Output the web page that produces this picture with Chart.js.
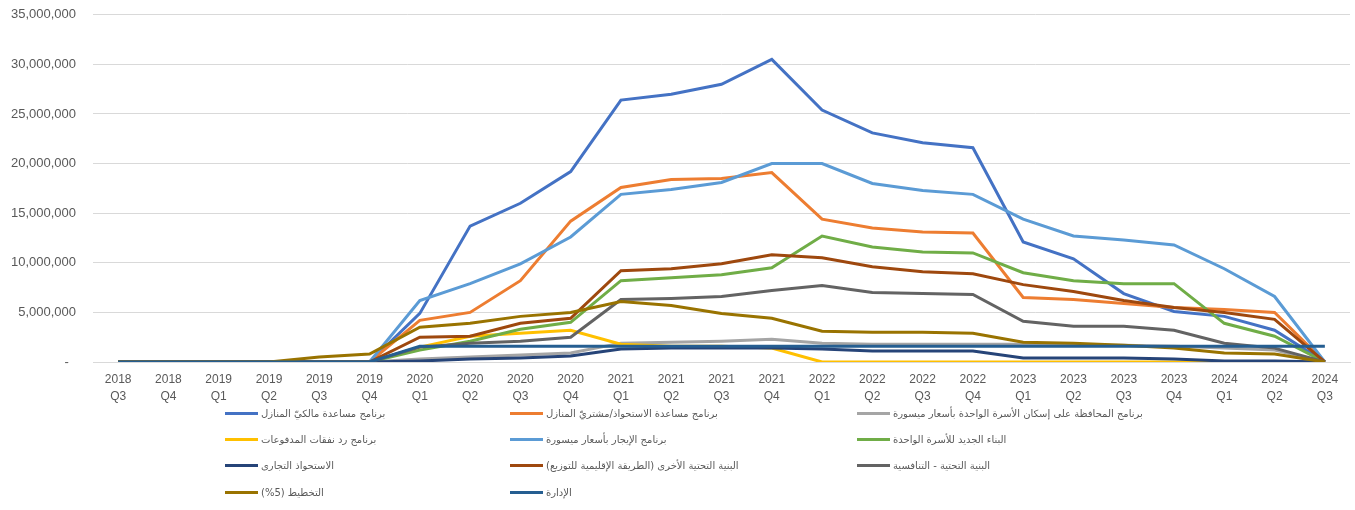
<!DOCTYPE html>
<html lang="ar">
<head>
<meta charset="utf-8">
<title>الإنفاق حسب البرنامج</title>
<script src="https://cdn.jsdelivr.net/npm/chart.js@4.4.1/dist/chart.umd.min.js"></script>
<style>
    html, body { margin: 0; padding: 0; background: #fff; }
    #wrap { position: relative; width: 1355px; height: 510px; overflow: hidden; }
    #chart-box { position: absolute; left: 0; top: -10px; width: 1355px; height: 415px; }
    #legend { position: absolute; left: 0; top: 400px; width: 1355px; height: 110px; }
    .legend-item { position: absolute; display: flex; align-items: center; height: 16px;
        font-family: "DejaVu Sans", "Liberation Sans", sans-serif; font-size: 10px; color: #595959; white-space: nowrap; }
    .legend-item .swatch { width: 33px; height: 3px; margin-right: 3px; flex: none; }
</style>
</head>
<body>
<div id="wrap">
    <div id="chart-box"><canvas id="spendChart"></canvas></div>
    <div id="legend"></div>
</div>
<script>
// quarters on the x axis
const categories = [
    '2018 Q3', '2018 Q4',
    '2019 Q1', '2019 Q2', '2019 Q3', '2019 Q4',
    '2020 Q1', '2020 Q2', '2020 Q3', '2020 Q4',
    '2021 Q1', '2021 Q2', '2021 Q3', '2021 Q4',
    '2022 Q1', '2022 Q2', '2022 Q3', '2022 Q4',
    '2023 Q1', '2023 Q2', '2023 Q3', '2023 Q4',
    '2024 Q1', '2024 Q2', '2024 Q3'
];

const yTicks = [0, 5000000, 10000000, 15000000, 20000000, 25000000, 30000000, 35000000];

// program names (legend order)
const seriesNames = [
    'برنامج مساعدة مالكيّ المنازل',
    'برنامج مساعدة الاستحواذ/مشتريّ المنازل',
    'برنامج المحافظة على إسكان الأسرة الواحدة بأسعار ميسورة',
    'برنامج رد نفقات المدفوعات',
    'برنامج الإيجار بأسعار ميسورة',
    'البناء الجديد للأسرة الواحدة',
    'الاستحواذ التجارى',
    'البنية التحتية الأخرى (الطريقة الإقليمية للتوزيع)',
    'البنية التحتية - التنافسية',
    'التخطيط \u202D(%5)\u202C',
    'الإدارة'
];

// cumulative spend per quarter
const homeowners   = [0, 0, 0, 0, 0, 0, 4900000, 13700000, 16000000, 19200000, 26400000, 27000000, 28000000, 30500000, 25400000, 23100000, 22100000, 21600000, 12100000, 10400000, 6900000, 5100000, 4600000, 3200000, 0];
const buyers       = [0, 0, 0, 0, 0, 0, 4200000, 5000000, 8200000, 14200000, 17600000, 18400000, 18500000, 19100000, 14400000, 13500000, 13100000, 13000000, 6500000, 6300000, 5900000, 5500000, 5300000, 5000000, 0];
const preservation = [0, 0, 0, 0, 0, 0, 300000, 500000, 700000, 900000, 1900000, 2000000, 2100000, 2300000, 1900000, 1800000, 1800000, 1800000, 1800000, 1700000, 1700000, 1600000, 1400000, 1200000, 0];
const refunds      = [0, 0, 0, 0, 0, 0, 1500000, 2600000, 2900000, 3200000, 1800000, 1600000, 1600000, 1400000, 0, 0, 0, 0, 0, 0, 0, 0, 0, 0, 0];
const rental       = [0, 0, 0, 0, 0, 0, 6200000, 7900000, 9900000, 12600000, 16900000, 17400000, 18100000, 20000000, 20000000, 18000000, 17300000, 16900000, 14400000, 12700000, 12300000, 11800000, 9400000, 6600000, 0];
const newBuild     = [0, 0, 0, 0, 0, 0, 1200000, 2100000, 3300000, 4000000, 8200000, 8500000, 8800000, 9500000, 12700000, 11600000, 11100000, 11000000, 9000000, 8200000, 7900000, 7900000, 3900000, 2600000, 0];
const commercial   = [0, 0, 0, 0, 0, 0, 100000, 300000, 400000, 600000, 1300000, 1400000, 1400000, 1400000, 1300000, 1100000, 1100000, 1100000, 400000, 400000, 400000, 300000, 100000, 100000, 0];
const otherInfra   = [0, 0, 0, 0, 0, 0, 2500000, 2600000, 3900000, 4400000, 9200000, 9400000, 9900000, 10800000, 10500000, 9600000, 9100000, 8900000, 7800000, 7100000, 6200000, 5500000, 5000000, 4300000, 0];
const competitive  = [0, 0, 0, 0, 0, 0, 1500000, 1900000, 2100000, 2500000, 6300000, 6400000, 6600000, 7200000, 7700000, 7000000, 6900000, 6800000, 4100000, 3600000, 3600000, 3200000, 1900000, 1400000, 0];
const planning     = [0, 0, 0, 0, 500000, 800000, 3500000, 3900000, 4600000, 5000000, 6100000, 5700000, 4900000, 4400000, 3100000, 3000000, 3000000, 2900000, 2000000, 1900000, 1700000, 1400000, 900000, 800000, 0];
const admin        = [0, 0, 0, 0, 0, 0, 1600000, 1600000, 1600000, 1600000, 1600000, 1600000, 1600000, 1600000, 1600000, 1600000, 1600000, 1600000, 1600000, 1600000, 1600000, 1600000, 1600000, 1600000, 1600000];

const seriesValues = [homeowners, buyers, preservation, refunds, rental, newBuild, commercial, otherInfra, competitive, planning, admin];
const seriesColors = ['#4472C4', '#ED7D31', '#A5A5A5', '#FFC000', '#5B9BD5', '#70AD47', '#264478', '#9E480E', '#636363', '#997300', '#255E91'];

const legendCols = [225, 510, 857];
const legendRows = [5, 31, 57, 84];

document.addEventListener('DOMContentLoaded', () => {
    renderChart();
    renderLegend();
});

function renderChart() {
    const ctx = document.getElementById('spendChart').getContext('2d');
    const last = seriesNames.length - 1;

    const datasets = seriesNames.map((name, i) => ({
        label: name,
        data: seriesValues[i],
        borderColor: seriesColors[i],
        backgroundColor: seriesColors[i],
        borderWidth: 3,
        pointRadius: 0,
        tension: 0,
        fill: false,
        order: last - i   // later series drawn on top
    }));

    new Chart(ctx, {
        type: 'line',
        data: { labels: categories, datasets: datasets },
        options: {
            responsive: true, maintainAspectRatio: false, animation: false,
            layout: { padding: { top: 0, right: 5, left: 0, bottom: 0 } },
            plugins: { legend: { display: false }, tooltip: { enabled: false } },
            scales: {
                x: {
                    offset: true,
                    grid: { display: false, drawTicks: false },
                    border: { display: true, color: '#d9d9d9', width: 1 },
                    ticks: {
                        autoSkip: false, maxRotation: 0, padding: 10, color: '#595959',
                        font: { family: 'Liberation Sans', size: 12, lineHeight: 1.35 },
                        callback: (v, i) => categories[i].split(' ')
                    },
                    afterFit: s => { s.height = 43; }
                },
                y: {
                    min: 0, max: 35000000,
                    afterBuildTicks: s => { s.ticks = yTicks.map(v => ({ value: v })); },
                    grid: { color: '#d9d9d9', lineWidth: 1, drawTicks: false },
                    border: { display: false },
                    ticks: {
                        padding: 17, color: '#595959',
                        font: { family: 'Liberation Sans', size: 13 },
                        callback: v => v === 0 ? '-  ' : v.toLocaleString('en-US')
                    },
                    afterFit: s => { s.width = 93; }
                }
            }
        }
    });
}

function renderLegend() {
    const box = document.getElementById('legend');
    seriesNames.forEach((name, i) => {
        const item = document.createElement('div');
        item.className = 'legend-item';
        item.style.left = legendCols[i % 3] + 'px';
        item.style.top = legendRows[Math.floor(i / 3)] + 'px';
        item.innerHTML = `<span class="swatch" style="background:${seriesColors[i]}"></span><span dir="rtl">${name}</span>`;
        box.appendChild(item);
    });
}
</script>
</body>
</html>
